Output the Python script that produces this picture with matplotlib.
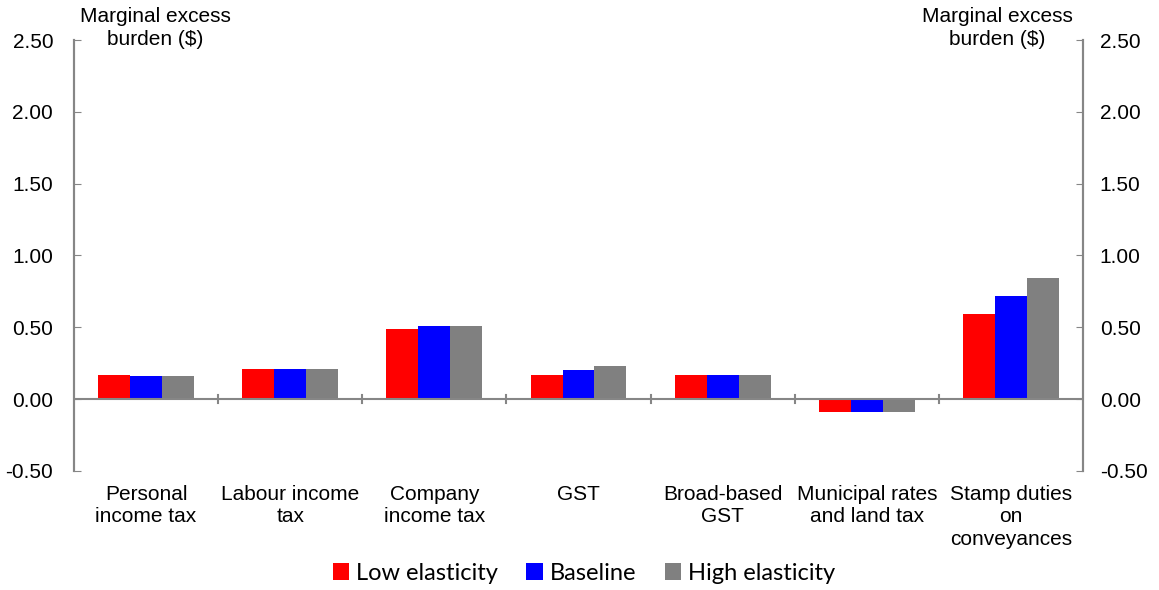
import matplotlib.pyplot as plt
import numpy as np

categories = ["Personal\nincome tax", "Labour income\ntax", "Company\nincome tax", "GST",
              "Broad-based\nGST", "Municipal rates\nand land tax", "Stamp duties\non\nconveyances"]
low = [0.17, 0.21, 0.49, 0.17, 0.17, -0.09, 0.59]
baseline = [0.16, 0.21, 0.51, 0.20, 0.17, -0.09, 0.72]
high = [0.16, 0.21, 0.51, 0.23, 0.17, -0.09, 0.84]
series = [("Low elasticity", low, "#ff0000"),
          ("Baseline", baseline, "#0000ff"),
          ("High elasticity", high, "#808080")]
yticks = [-0.5, 0.0, 0.5, 1.0, 1.5, 2.0, 2.5]

plt.rcParams["font.family"] = ["Liberation Sans", "DejaVu Sans"]
grey = "#868686"

fig = plt.figure(figsize=(11.59, 5.9), dpi=100)
ax = fig.add_axes([74 / 1159, 1 - 471 / 590, (1083 - 74) / 1159, (471 - 40) / 590])

x = np.arange(len(categories))
w = 0.222
handles = []
for i, (name, vals, col) in enumerate(series):
    b = ax.bar(x + (i - 1) * w, vals, w, color=col, label=name, zorder=2)
    handles.append(b)

ax.set_xlim(-0.5, len(categories) - 0.5)
ax.set_ylim(-0.5, 2.5)
ax.set_yticks(yticks)
ax.set_yticklabels([f"{v:.2f}" for v in yticks], fontsize=15)
ax.tick_params(axis="y", direction="in", length=5, color=grey, pad=15)

# right axis mirrors left
ax2 = ax.twinx()
ax2.set_ylim(ax.get_ylim())
ax2.set_yticks(yticks)
ax2.set_yticklabels([f"{v:.2f}" for v in yticks], fontsize=15)
ax2.tick_params(axis="y", direction="in", length=5, color=grey, pad=12)

for a in (ax, ax2):
    for s in ("top", "bottom"):
        a.spines[s].set_visible(False)
    for s in ("left", "right"):
        a.spines[s].set_color(grey)
        a.spines[s].set_linewidth(1.5)

# zero line with category separators
ax.axhline(0, color=grey, lw=1.5, zorder=3)
ax.set_xticks([])
for b in np.arange(0.5, len(categories) - 1, 1.0):
    ax.plot([b, b], [-0.03, 0.03], color=grey, lw=1.5, zorder=3)

for xi, lab in zip(x, categories):
    ax.text(xi, -0.595, lab, ha="center", va="top", fontsize=15, linespacing=1.25)

fig.text(155 / 1159, 1 - 7 / 590, "Marginal excess\nburden ($)", ha="center", va="top",
         fontsize=15, linespacing=1.25)
fig.text(997 / 1159, 1 - 7 / 590, "Marginal excess\nburden ($)", ha="center", va="top",
         fontsize=15, linespacing=1.25)

fig.legend(handles=handles, loc="center", bbox_to_anchor=(584 / 1159, 1 - 573 / 590),
           ncol=3, frameon=False, prop={"family": "Lato", "size": 17},
           handlelength=0.7, handleheight=0.7, handletextpad=0.3, columnspacing=1.2)

fig.savefig("out.png", dpi=100)
